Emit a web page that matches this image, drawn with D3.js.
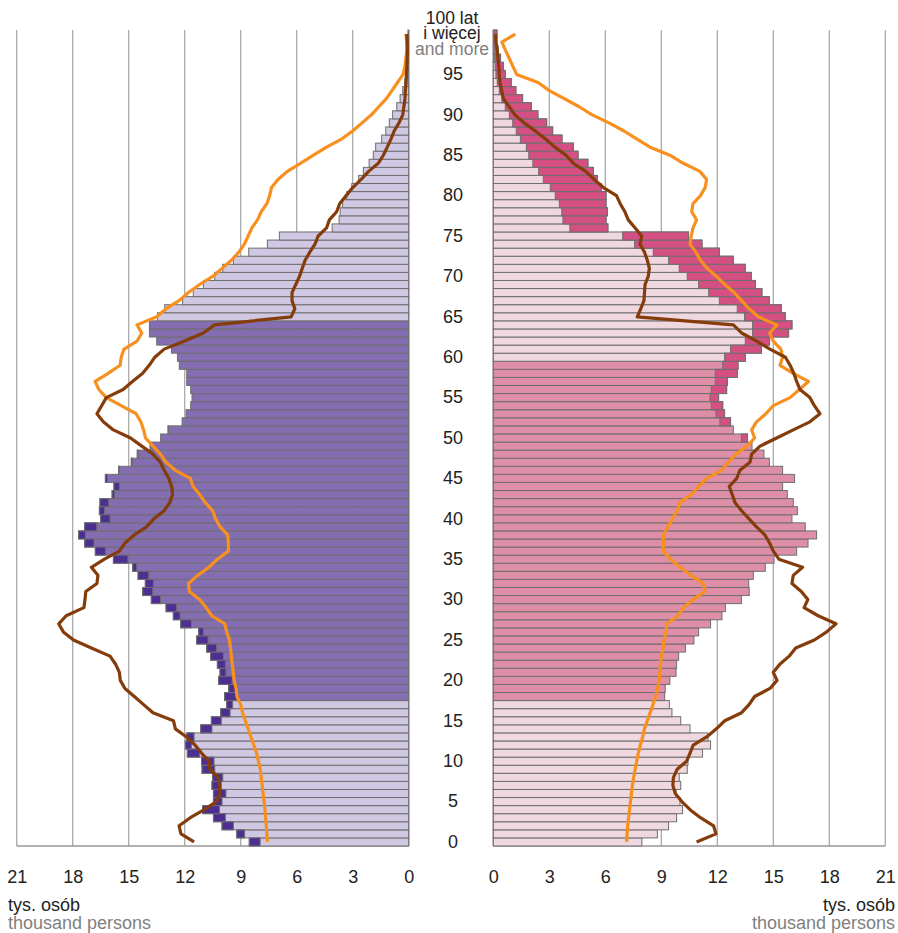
<!DOCTYPE html>
<html><head><meta charset="utf-8">
<script src="https://cdn.jsdelivr.net/npm/d3@7"></script>
<style>body{margin:0;background:#fff}svg{display:block;font-family:"Liberation Sans",Arial,sans-serif}</style>
</head><body><svg id="c" width="898" height="933"></svg>
<script>
const ages = d3.range(0, 101);
const males = [8.54, 9.21, 10.0, 10.46, 11.04, 10.46, 10.46, 10.54, 10.5, 11.07,
  11.1, 11.86, 11.96, 11.89, 11.14, 10.57, 10.07, 9.75, 9.86, 9.64,
  10.18, 10.11, 10.25, 10.61, 10.82, 11.36, 11.25, 12.21, 12.61, 13.0,
  13.79, 14.25, 14.11, 14.5, 14.79, 15.82, 16.79, 17.36, 17.68, 17.36,
  16.5, 16.57, 16.54, 15.89, 15.79, 16.25, 15.54, 14.86, 14.54, 13.86,
  13.29, 12.89, 12.14, 11.93, 11.68, 11.61, 11.68, 11.89, 11.89, 12.29,
  12.39, 12.71, 13.5, 13.89, 13.89, 13.46, 13.07, 12.11, 11.54, 11.0,
  10.39, 9.96, 9.39, 8.57, 7.57, 6.93, 4.1, 3.73, 3.67, 3.54,
  3.32, 3.05, 2.68, 2.43, 2.12, 1.9, 1.77, 1.45, 1.23, 1.04,
  0.86, 0.64, 0.46, 0.32, 0.21, 0.14, 0.1, 0.07, 0.05, 0.03,
  0.04];
const females = [7.96, 8.79, 9.39, 9.82, 10.14, 10.0, 9.79, 10.04, 9.96, 10.39,
  10.43, 11.21, 11.64, 11.5, 10.54, 10.04, 9.57, 9.43, 9.18, 9.21,
  9.46, 9.79, 9.82, 9.93, 10.29, 10.75, 11.0, 11.64, 12.25, 12.43,
  13.29, 13.71, 13.68, 13.93, 14.57, 15.04, 16.25, 16.86, 17.32, 16.71,
  16.0, 16.29, 16.07, 15.75, 15.5, 16.14, 15.5, 14.79, 14.5, 13.86,
  13.61, 12.86, 12.71, 12.39, 12.29, 12.07, 12.5, 12.54, 13.07, 13.11,
  13.5, 14.36, 14.8, 15.82, 16.0, 15.64, 15.43, 14.79, 14.39, 14.04,
  13.82, 13.5, 12.86, 12.11, 11.18, 10.46, 6.14, 6.04, 6.11, 6.04,
  6.04, 5.79, 5.57, 5.36, 5.07, 4.54, 4.29, 3.68, 3.18, 2.86,
  2.39, 2.04, 1.57, 1.21, 0.96, 0.64, 0.54, 0.39, 0.25, 0.18,
  0.2];
const orangeMales = [7.57, 7.6, 7.63, 7.67, 7.7, 7.75, 7.8, 7.85, 7.9, 7.95,
  8.05, 8.15, 8.3, 8.45, 8.6, 8.75, 8.9, 9.0, 9.2, 9.25,
  9.35, 9.4, 9.45, 9.5, 9.55, 9.6, 9.75, 9.85, 10.55, 10.85,
  11.2, 11.75, 11.8, 11.3, 10.7, 10.25, 9.66, 9.66, 9.7, 10.1,
  10.35, 10.5, 10.9, 11.2, 11.55, 11.7, 12.5, 13.0, 13.3, 13.7,
  14.1, 14.2, 14.35, 14.6, 15.4, 16.2, 16.6, 16.8, 16.1, 15.46,
  15.4, 15.25, 14.55, 14.3, 14.55, 13.5, 13.0, 12.3, 11.8, 11.2,
  10.5, 10.0, 9.5, 9.1, 8.8, 8.6, 8.4, 8.1, 7.9, 7.6,
  7.45, 7.35, 7.0, 6.5, 5.8, 5.1, 4.4, 3.6, 3.0, 2.5,
  2.0, 1.6, 1.2, 0.9, 0.6, 0.3, 0.2, 0.15, 0.1, 0.1,
  0.15];
const brownMales = [11.5, 12.2, 12.3, 11.7, 10.95, 10.3, 10.1, 10.15, 10.2, 10.65,
  10.7, 11.1, 11.45, 11.9, 12.5, 12.6, 13.7, 14.2, 14.7, 15.2,
  15.45, 15.5, 15.7, 16.0, 17.0, 17.96, 18.5, 18.75, 18.35, 17.4,
  17.34, 17.3, 16.7, 16.65, 17.0, 16.3, 15.5, 15.2, 14.7, 14.05,
  13.65, 13.1, 12.8, 12.65, 12.7, 12.85, 13.1, 13.3, 13.7, 14.3,
  14.9, 15.82, 16.36, 16.7, 16.45, 16.2, 15.3, 14.8, 14.25, 13.9,
  13.6, 13.1, 12.0, 11.0, 10.4, 6.3, 6.1, 6.25, 6.25, 6.05,
  5.85, 5.7, 5.55, 5.3, 5.02, 4.85, 4.4, 4.25, 3.86, 3.7,
  3.35, 3.0, 2.55, 2.15, 1.63, 1.36, 1.15, 0.95, 0.78, 0.52,
  0.32, 0.26, 0.2, 0.18, 0.14, 0.12, 0.1, 0.08, 0.07, 0.08,
  0.1];
const orangeFemales = [7.14, 7.17, 7.2, 7.25, 7.3, 7.35, 7.4, 7.45, 7.52, 7.6,
  7.68, 7.77, 7.88, 8.0, 8.1, 8.25, 8.4, 8.55, 8.7, 8.8,
  8.88, 8.93, 8.95, 9.0, 9.1, 9.15, 9.25, 9.3, 9.9, 10.18,
  10.7, 11.34, 11.25, 10.6, 10.0, 9.5, 9.11, 9.11, 9.11, 9.35,
  9.6, 9.85, 10.0, 10.6, 11.0, 11.43, 12.23, 12.6, 13.0, 13.6,
  14.0, 13.84, 14.1, 14.6, 15.0, 15.9, 16.4, 16.88, 16.07, 15.36,
  15.5, 15.4, 15.0, 14.8, 15.2, 14.2, 13.7, 13.3, 12.9, 12.4,
  11.96, 11.45, 11.1, 10.85, 10.54, 10.6, 10.7, 10.89, 10.63, 10.7,
  11.1, 11.35, 11.43, 11.07, 10.18, 9.46, 8.4, 7.7, 7.0, 6.2,
  5.3, 4.6, 3.8, 3.0, 2.4, 1.25, 1.05, 0.85, 0.65, 0.46,
  1.18];
const brownFemales = [10.89, 11.93, 11.8, 11.1, 10.54, 10.1, 9.75, 9.62, 9.65, 9.85,
  10.36, 10.54, 10.71, 11.43, 11.95, 12.4, 13.3, 13.7, 14.0, 14.82,
  15.2, 15.0, 15.35, 15.85, 16.2, 17.2, 17.86, 18.36, 17.4, 16.65,
  16.85, 16.5, 16.0, 16.07, 16.57, 15.3, 15.0, 14.8, 14.55, 14.1,
  13.7, 13.3, 12.95, 12.8, 12.64, 13.04, 13.21, 13.75, 13.84, 14.29,
  15.18, 16.07, 16.96, 17.5, 17.2, 16.96, 16.43, 16.25, 16.1, 15.9,
  15.65, 14.82, 14.11, 13.3, 12.86, 7.71, 7.9, 8.07, 8.1, 8.13,
  8.3, 8.36, 8.25, 8.1, 7.86, 7.95, 7.6, 7.23, 7.05, 6.8,
  6.6, 5.9, 5.4, 4.95, 4.29, 3.9, 3.3, 2.8, 2.25, 1.65,
  1.16, 0.85, 0.54, 0.45, 0.36, 0.32, 0.29, 0.25, 0.21, 0.15,
  0.11];
const ageTicks = [0, 5, 10, 15, 20, 25, 30, 35, 40, 45, 50, 55, 60, 65, 70, 75, 80, 85, 90, 95];
const valueTicks = [0, 3, 6, 9, 12, 15, 18, 21];
const topLabel = ["100 lat", "i więcej", "and more"];
const unitLabel = ["tys. osób", "thousand persons"];
const maleWorkAges = [18, 64];
const femaleWorkAges = [18, 59];

const svg = d3.select("#c");
const y = d3.scaleBand().domain(ages).range([846, 30]).padding(0);
const bw = y.bandwidth();
const xL = d3.scaleLinear().domain([0, 21]).range([408.7, 16.7]);
const xR = d3.scaleLinear().domain([0, 21]).range([493.3, 885.3]);

// gridlines
const grid = svg.append("g");
[xL, xR].forEach(sc => {
  grid.selectAll(null).data(valueTicks).enter().append("line")
    .attr("x1", d => sc(d)).attr("x2", d => sc(d))
    .attr("y1", 30).attr("y2", 846)
    .attr("stroke", d => d === 0 ? "#777" : "#a9a9a9").attr("stroke-width", 1.3);
  grid.append("line").attr("x1", sc(0)).attr("x2", sc(21)).attr("y1", 846).attr("y2", 846)
    .attr("stroke", "#999").attr("stroke-width", 1.3);
});

const data = ages.map((a, i) => ({age: a, m: males[i], f: females[i]}));
const stroke = "#6e6e6e";

// male bars
const gm = svg.append("g");
gm.selectAll("rect.base").data(data).enter().append("rect")
  .attr("x", d => xL(d.m)).attr("width", d => xL(0) - xL(d.m))
  .attr("y", d => y(d.age)).attr("height", bw)
  .attr("fill", d => (d.age >= maleWorkAges[0] && d.age <= maleWorkAges[1]) ? "#846db0" : "#d0c8e2")
  .attr("stroke", stroke).attr("stroke-width", 1);
gm.selectAll("rect.tip").data(data.filter(d => d.m > d.f)).enter().append("rect")
  .attr("x", d => xL(d.m)).attr("width", d => xL(d.f) - xL(d.m))
  .attr("y", d => y(d.age)).attr("height", bw)
  .attr("fill", "#4d2e91").attr("stroke", stroke).attr("stroke-width", 1);

// female bars
const gf = svg.append("g");
gf.selectAll("rect.base").data(data).enter().append("rect")
  .attr("x", xR(0)).attr("width", d => xR(d.f) - xR(0))
  .attr("y", d => y(d.age)).attr("height", bw)
  .attr("fill", d => (d.age >= femaleWorkAges[0] && d.age <= femaleWorkAges[1]) ? "#df8ea8" : "#f0d8e1")
  .attr("stroke", stroke).attr("stroke-width", 1);
gf.selectAll("rect.tip").data(data.filter(d => d.f > d.m)).enter().append("rect")
  .attr("x", d => xR(d.m)).attr("width", d => xR(d.f) - xR(d.m))
  .attr("y", d => y(d.age)).attr("height", bw)
  .attr("fill", "#d44f82").attr("stroke", stroke).attr("stroke-width", 1);

// lines
const yc = a => y(a) + bw / 2;
function drawLine(vals, sc, color) {
  const line = d3.line().x(d => sc(d[1])).y(d => yc(d[0]));
  svg.append("path").datum(ages.map((a, i) => [a, vals[i]]))
    .attr("d", line).attr("fill", "none").attr("stroke", color)
    .attr("stroke-width", 3.2).attr("stroke-linejoin", "round").attr("stroke-linecap", "butt");
}
drawLine(orangeMales, xL, "#f7901e");
drawLine(brownMales, xL, "#853c0b");
drawLine(orangeFemales, xR, "#f7901e");
drawLine(brownFemales, xR, "#853c0b");

// age axis (center)
const ageAxis = svg.append("g").attr("transform", "translate(453,0)")
  .call(d3.axisLeft(y).tickValues(ageTicks).tickSize(0).tickPadding(0));
ageAxis.select(".domain").remove();
ageAxis.selectAll("text").attr("x", 0).attr("text-anchor", "middle")
  .attr("font-size", 18).attr("fill", "#222").attr("font-family", "Liberation Sans, Arial, sans-serif");

svg.append("text").attr("x", 452).attr("y", 24).attr("text-anchor", "middle")
  .attr("font-size", 17.5).attr("fill", "#222").text(topLabel[0]);
svg.append("text").attr("x", 452).attr("y", 39).attr("text-anchor", "middle")
  .attr("font-size", 17.5).attr("fill", "#222").text(topLabel[1]);
svg.append("text").attr("x", 452).attr("y", 55).attr("text-anchor", "middle")
  .attr("font-size", 17.5).attr("fill", "#7f7f7f").text(topLabel[2]);

// value axes
[xL, xR].forEach(sc => {
  const ax = svg.append("g").attr("transform", "translate(0,877)")
    .call(d3.axisBottom(sc).tickValues(valueTicks).tickSize(0).tickPadding(0).tickFormat(d3.format("d")));
  ax.select(".domain").remove();
  ax.selectAll("text").attr("y", 0).attr("dy", "0.36em")
    .attr("font-size", 18).attr("fill", "#222").attr("font-family", "Liberation Sans, Arial, sans-serif");
});

svg.append("text").attr("x", 8).attr("y", 911).attr("font-size", 18).attr("fill", "#222").text(unitLabel[0]);
svg.append("text").attr("x", 8).attr("y", 929).attr("font-size", 18).attr("fill", "#7f7f7f").text(unitLabel[1]);
svg.append("text").attr("x", 895).attr("y", 911).attr("text-anchor", "end").attr("font-size", 18).attr("fill", "#222").text(unitLabel[0]);
svg.append("text").attr("x", 895).attr("y", 929).attr("text-anchor", "end").attr("font-size", 18).attr("fill", "#7f7f7f").text(unitLabel[1]);
</script></body></html>
